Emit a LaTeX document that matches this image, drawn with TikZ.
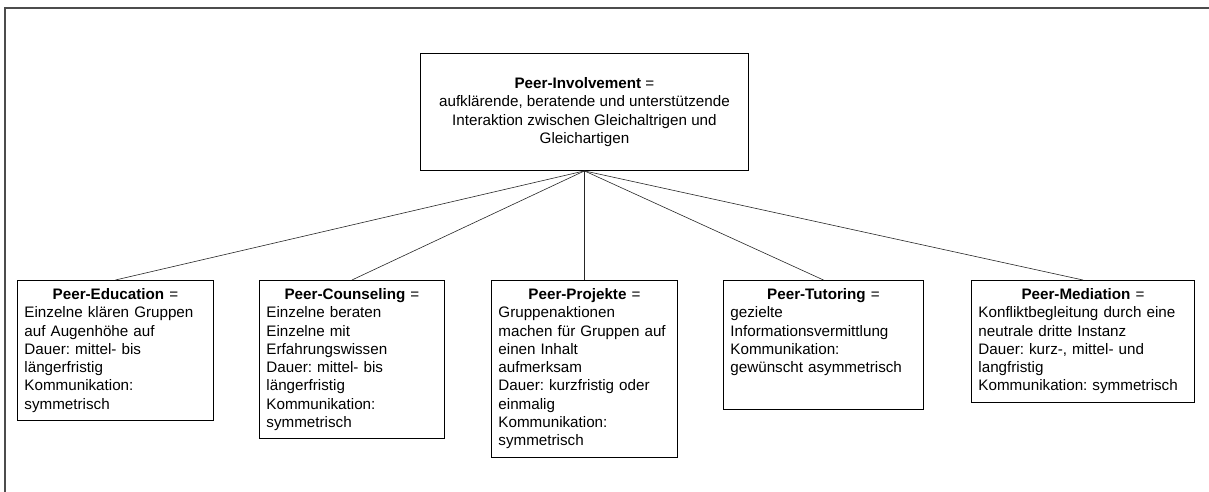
\documentclass[tikz,border=0pt]{standalone}
\usepackage{fontspec}
\setmainfont{Liberation Sans}
\frenchspacing

\begin{document}
\begin{tikzpicture}[x=1pt, y=-1pt, font=\fontsize{15.2}{18.3}\selectfont,
      peerbox/.style={draw, line width=0.9pt, anchor=north west, align=left,
         inner xsep=7pt, inner ysep=8pt},
      branch/.style={line width=0.6pt, black!85}]
      \useasboundingbox (0, 0) rectangle (1209, 492);
      \draw [line width=2pt, black!70] (5, 520) -- (5, 8) -- (1230, 8);

      \node [draw, line width=0.9pt, anchor=north west, align=center,
         minimum width=328pt, minimum height=117pt, inner sep=0pt]
         (involvement) at (420, 53)
         {\textbf{Peer-Involvement} =\\
          aufklärende, beratende und unterstützende\\
          Interaktion zwischen Gleichaltrigen und\\
          Gleichartigen};

      \node [peerbox, text width=182pt] (education) at (17, 280)
         {\centerline{\textbf{Peer-Education} =}
          Einzelne klären Gruppen\\ auf Augenhöhe auf\\ Dauer: mittel- bis\\
          längerfristig\\ Kommunikation:\\ symmetrisch};
      \node [peerbox, text width=171pt] (counseling) at (259, 280)
         {\centerline{\textbf{Peer-Counseling} =}
          Einzelne beraten\\ Einzelne mit\\ Erfahrungswissen\\ Dauer: mittel- bis\\
          längerfristig\\ Kommunikation:\\ symmetrisch};
      \node [peerbox, text width=172pt] (projekte) at (491, 280)
         {\centerline{\textbf{Peer-Projekte} =}
          Gruppenaktionen\\ machen für Gruppen auf\\ einen Inhalt\\ aufmerksam\\
          Dauer: kurzfristig oder\\ einmalig\\ Kommunikation:\\ symmetrisch};
      \node [peerbox, text width=186pt] (tutoring) at (723, 280)
         {\centerline{\textbf{Peer-Tutoring} =}
          gezielte\\ Informationsvermittlung\\ Kommunikation:\\
          gewünscht asymmetrisch\\[10pt] \mbox{}};
      \node [peerbox, text width=209pt] (mediation) at (971, 280)
         {\centerline{\textbf{Peer-Mediation} =}
          Konfliktbegleitung durch eine\\ neutrale dritte Instanz\\
          Dauer: kurz-, mittel- und\\ langfristig\\ Kommunikation: symmetrisch};

      \draw [branch] (involvement.south) -- (education.north);
      \draw [branch] (involvement.south) -- (counseling.north);
      \draw [branch] (involvement.south) -- (projekte.north);
      \draw [branch] (involvement.south) -- (tutoring.north);
      \draw [branch] (involvement.south) -- (mediation.north);

   \end{tikzpicture}
\end{document}
